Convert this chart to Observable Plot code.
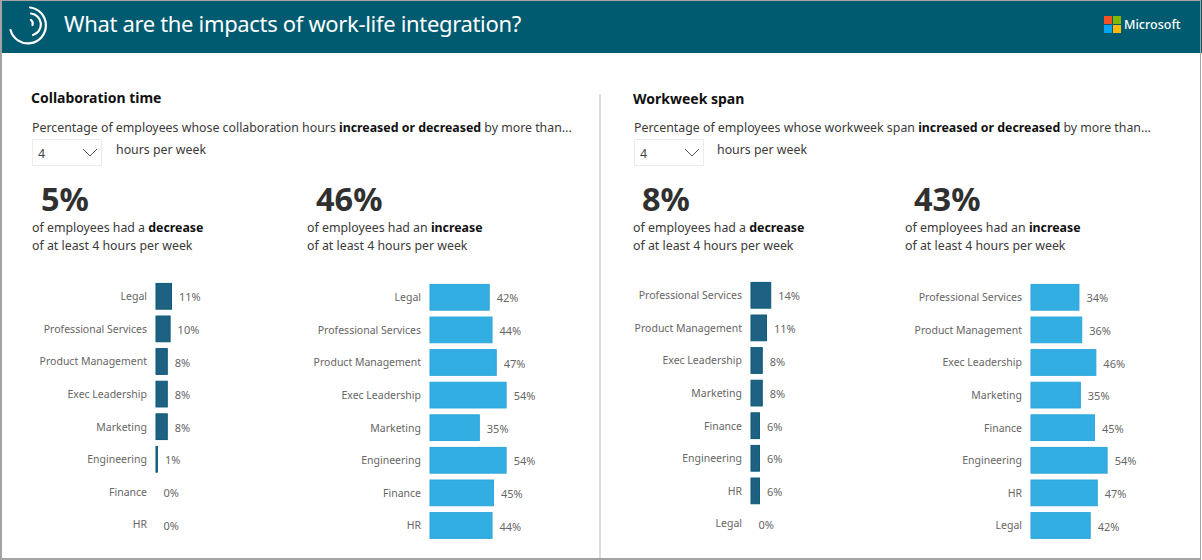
<!DOCTYPE html>
<html><head><meta charset="utf-8">
<script src="https://cdn.jsdelivr.net/npm/d3@7"></script>
<script src="https://cdn.jsdelivr.net/npm/@observablehq/plot@0.6"></script>
<style>
html,body{margin:0;padding:0;background:#fff;overflow:hidden}
#page{position:relative;width:1202px;height:560px;font-family:"Noto Sans",sans-serif;color:#252423;overflow:hidden}
#frame{position:absolute;left:0;top:0;width:1198px;height:557px;border:solid #a3a3a3;border-width:1px 1px 2px 2px;pointer-events:none;z-index:5}
#head{position:absolute;left:0;top:0;width:1202px;height:53px;background:#005b70}
#title{position:absolute;left:64px;top:6px;font-size:22px;letter-spacing:-.33px;line-height:34px;color:#fff;white-space:nowrap}
#logo{position:absolute;left:0;top:0}
#ms{position:absolute;left:1104px;top:16px;width:17px;height:17px;display:grid;grid-template-columns:1fr 1fr;gap:1px}
#ms i:nth-child(1){background:#f25022}#ms i:nth-child(2){background:#7fba00}#ms i:nth-child(3){background:#00a4ef}#ms i:nth-child(4){background:#ffb900}
#msword{position:absolute;left:1124px;top:15px;font-size:12.5px;line-height:19px;color:#fff;font-weight:500}
#divider{position:absolute;left:599px;top:94px;width:2px;height:466px;background:#dcdcdc}
.t{position:absolute;white-space:nowrap}
.h{font-size:14px;font-weight:700;color:#111;line-height:20px}
.s{font-size:12.35px;line-height:18px;color:#3b3a39}
.s b{color:#111;font-weight:700}
.big{font-size:32.5px;font-weight:700;line-height:40px;color:#303030}
.sel{position:absolute;width:68px;height:25px;border:1px solid #ececec;box-sizing:content-box;font-size:12.5px;color:#444}
.sel span{position:absolute;left:5px;top:5px;line-height:18px}
.sel svg{position:absolute;left:49px;top:8px}
.chart{position:absolute}
.chart svg{overflow:visible;display:block}
</style></head><body>
<div id="page">
<div id="head"></div>
<svg id="logo" width="60" height="53" fill="none" stroke="#fff" stroke-width="2.2" stroke-linecap="round">
<path d="M30 7.5 A18 18 0 1 1 10.5 30"/><path d="M31 13.5 A11 11 0 0 1 33 35"/><path d="M31 20 A4.5 4.5 0 0 1 32.5 25"/>
</svg>
<div id="title">What are the impacts of work-life integration?</div>
<div id="ms"><i></i><i></i><i></i><i></i></div>
<div id="msword">Microsoft</div>
<div id="divider"></div>
<div id="frame"></div>

<div class="t h" style="left:31px;top:88px">Collaboration time</div>
<div class="t s" style="left:32px;top:119px">Percentage of employees whose collaboration hours <b>increased or decreased</b> by more than...</div>
<div class="sel" style="left:32px;top:139px"><span>4</span><svg width="16" height="9" fill="none" stroke="#555"><path d="M1 1 L8 8 L15 1"/></svg></div>
<div class="t s" style="left:116px;top:141px">hours per week</div>
<div class="t big" style="left:41px;top:179px">5%</div>
<div class="t s" style="left:32px;top:219px">of employees had a <b>decrease</b></div>
<div class="t s" style="left:32px;top:237px">of at least 4 hours per week</div>
<div class="t big" style="left:316px;top:179px">46%</div>
<div class="t s" style="left:307px;top:219px">of employees had an <b>increase</b></div>
<div class="t s" style="left:307px;top:237px">of at least 4 hours per week</div>

<div class="t h" style="left:633px;top:89px">Workweek span</div>
<div class="t s" style="left:634px;top:119px">Percentage of employees whose workweek span <b>increased or decreased</b> by more than...</div>
<div class="sel" style="left:634px;top:139px"><span>4</span><svg width="16" height="9" fill="none" stroke="#555"><path d="M1 1 L8 8 L15 1"/></svg></div>
<div class="t s" style="left:717px;top:141px">hours per week</div>
<div class="t big" style="left:642px;top:179px">8%</div>
<div class="t s" style="left:633px;top:219px">of employees had a <b>decrease</b></div>
<div class="t s" style="left:633px;top:237px">of at least 4 hours per week</div>
<div class="t big" style="left:914px;top:179px">43%</div>
<div class="t s" style="left:905px;top:219px">of employees had an <b>increase</b></div>
<div class="t s" style="left:905px;top:237px">of at least 4 hours per week</div>
</div>
<script>
const collabDecreaseTeams = ["Legal","Professional Services","Product Management","Exec Leadership","Marketing","Engineering","Finance","HR"];
const collabDecreaseValues = [11,10,8,8,8,1,0,0];
const collabIncreaseTeams = ["Legal","Professional Services","Product Management","Exec Leadership","Marketing","Engineering","Finance","HR"];
const collabIncreaseValues = [42,44,47,54,35,54,45,44];
const spanDecreaseTeams = ["Professional Services","Product Management","Exec Leadership","Marketing","Finance","Engineering","HR","Legal"];
const spanDecreaseValues = [14,11,8,8,6,6,6,0];
const spanIncreaseTeams = ["Professional Services","Product Management","Exec Leadership","Marketing","Finance","Engineering","HR","Legal"];
const spanIncreaseValues = [34,36,46,35,45,54,47,42];
const darkBar = "#1f6182", darkEdge = "#0b5a78";
const lightBar = "#32aee2", lightEdge = "#2fa6da";

const ML = 150, PX_PER_PCT = 1.41, ROW = 32.6;
function barChart(teams, values, fill, edge, zeroX, firstCenterY){
  const rows = teams.map((team,i)=>({team, value: values[i]}));
  const h = ROW*teams.length;
  const plot = Plot.plot({
    width: ML + 60*PX_PER_PCT + 30,
    height: h,
    marginLeft: ML, marginRight: 30, marginTop: 0, marginBottom: 0,
    style: {background:"transparent", fontFamily:'"Noto Sans",sans-serif', overflow:"visible"},
    x: {domain:[0,60], range:[ML, ML+60*PX_PER_PCT], axis:null},
    y: {domain:teams, paddingInner:0.21, paddingOuter:0.105, round:false, label:null, axis:null},
    marks: [
      Plot.barX(rows.filter(d=>d.value>0), {x:"value", y:"team", fill, stroke:edge, strokeWidth:1, inset:0}),
      Plot.axisY({domain:teams, tickSize:0, tickPadding:9.5, label:null, fontSize:10.5, color:"#666", fill:"#666", marginLeft:ML}),
      Plot.text(rows, {x:"value", y:"team", text:d=>d.value+"%", dx:7, dy:1, textAnchor:"start", fontSize:11, fill:"#666"})
    ]
  });
  const box = document.createElement("div");
  box.className = "chart";
  box.style.left = (zeroX-ML)+"px";
  box.style.top = (firstCenterY-ROW/2)+"px";
  box.appendChild(plot);
  document.getElementById("page").appendChild(box);
}
barChart(collabDecreaseTeams, collabDecreaseValues, darkBar, darkEdge, 155.5, 296);
barChart(collabIncreaseTeams, collabIncreaseValues, lightBar, lightEdge, 429.5, 297);
barChart(spanDecreaseTeams, spanDecreaseValues, darkBar, darkEdge, 750.5, 295.5);
barChart(spanIncreaseTeams, spanIncreaseValues, lightBar, lightEdge, 1030.5, 297);
</script>
</body></html>
